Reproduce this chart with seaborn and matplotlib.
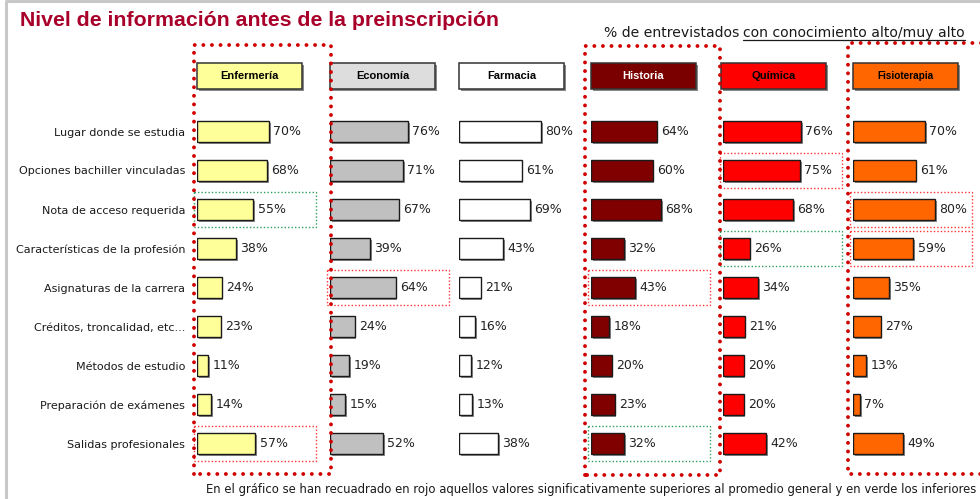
import pandas as pd
import matplotlib.pyplot as plt
import matplotlib.patheffects as pe
from matplotlib.patches import Rectangle
from matplotlib.lines import Line2D
import seaborn as sns

# datos (% con conocimiento alto/muy alto)
categorias = [
    "Lugar donde se estudia",
    "Opciones bachiller vinculadas",
    "Nota de acceso requerida",
    "Características de la profesión",
    "Asignaturas de la carrera",
    "Créditos, troncalidad, etc...",
    "Métodos de estudio",
    "Preparación de exámenes",
    "Salidas profesionales",
]
carreras = ["Enfermería", "Economía", "Farmacia", "Historia", "Química", "Fisioterapia"]
enfermeria = [70, 68, 55, 38, 24, 23, 11, 14, 57]
economia = [76, 71, 67, 39, 64, 24, 19, 15, 52]
farmacia = [80, 61, 69, 43, 21, 16, 12, 13, 38]
historia = [64, 60, 68, 32, 43, 18, 20, 23, 32]
quimica = [76, 75, 68, 26, 34, 21, 20, 20, 42]
fisioterapia = [70, 61, 80, 59, 35, 27, 13, 7, 49]
valores = [enfermeria, economia, farmacia, historia, quimica, fisioterapia]

# recuadros: superiores (rojo) e inferiores (verde) al promedio
resaltados_rojo = [
    ("Enfermería", "Salidas profesionales"),
    ("Economía", "Asignaturas de la carrera"),
    ("Historia", "Asignaturas de la carrera"),
    ("Química", "Opciones bachiller vinculadas"),
    ("Fisioterapia", "Nota de acceso requerida"),
    ("Fisioterapia", "Características de la profesión"),
]
resaltados_verde = [
    ("Enfermería", "Nota de acceso requerida"),
    ("Historia", "Salidas profesionales"),
    ("Química", "Características de la profesión"),
]

# estilo
colores = ["#FFFF99", "#C0C0C0", "#FFFFFF", "#800000", "#FF0000", "#FF6600"]
colores_cabecera = ["#FFFF99", "#DDDDDD", "#FFFFFF", "#7A0000", "#FF0000", "#FF6600"]
texto_cabecera = ["black", "black", "black", "white", "black", "black"]
x_barras = [197, 330, 459, 591, 723, 853]

sns.set_style("white")
plt.rcParams["font.family"] = ["DejaVu Sans"]

W, H = 980, 499
fig = plt.figure(figsize=(W / 100, H / 100), dpi=100)


def fx(x):
    return x / W


def fy(y):
    return 1 - y / H


PX_PCT = 1.025
AX_W = 130
ROW0, STEP = 131.5, 39.0
ax_top = ROW0 - STEP / 2
ax_bot = ROW0 + 8.5 * STEP
sombra = [pe.SimplePatchShadow(offset=(1.3, -1.3), shadow_rgbFace="0.55", alpha=1), pe.Normal()]

for i, (nombre, vals) in enumerate(zip(carreras, valores)):
    x0 = x_barras[i]
    ax = fig.add_axes([fx(x0), fy(ax_bot), fx(AX_W), (ax_bot - ax_top) / H])
    df = pd.DataFrame({"categoria": categorias, "valor": vals})
    sns.barplot(data=df, x="valor", y="categoria", orient="h", color=colores[i],
                saturation=1, edgecolor="#1a1a1a", linewidth=1, width=0.55, ax=ax)
    ax.set_xlim(0, AX_W / PX_PCT)
    ax.set_ylim(8.5, -0.5)
    ax.set_xlabel("")
    ax.set_ylabel("")
    ax.set_xticks([])
    ax.patch.set_alpha(0)
    sns.despine(ax=ax, left=True, bottom=True)
    if i == 0:
        ax.tick_params(axis="y", left=False, pad=5, labelsize=8.0, labelcolor="#1a1a1a")
    else:
        ax.set_yticks([])
    for p in ax.patches:
        p.set_path_effects(sombra)
    ax.bar_label(ax.containers[0], labels=[f"{v}%" for v in vals], padding=3,
                 fontsize=9, color="#222222")

    # recuadros finos
    for lista, col in ((resaltados_rojo, "#FF3333"), (resaltados_verde, "#2E9E5E")):
        for c, cat in lista:
            if c == nombre:
                r = categorias.index(cat)
                ax.add_patch(Rectangle((-2.5, r - 0.44), 119, 0.88, fill=False, ec=col,
                                       lw=1, ls=(0, (1, 1.5)), clip_on=False))

    # cabecera
    hx = x0 if i != 4 else x0 - 2
    fig.add_artist(Rectangle((fx(hx + 2), fy(91)), fx(105), 26 / H, transform=fig.transFigure,
                             fc="#888888", ec="none"))
    fig.add_artist(Rectangle((fx(hx), fy(89)), fx(105), 26 / H, transform=fig.transFigure,
                             fc=colores_cabecera[i], ec="#333333", lw=1.1))
    fig.text(fx(hx + 52.5), fy(76), nombre, ha="center", va="center",
             fontsize=7.2 if nombre == "Fisioterapia" else 8, fontweight="bold",
             color=texto_cabecera[i], family="Liberation Sans")


# marcos punteados gruesos
def marco(x1, y1, x2, y2, abierto=False):
    if abierto:
        xs, ys = [x2, x1, x1, x2], [y1, y1, y2, y2]
    else:
        xs, ys = [x1, x1, x2, x2, x1], [y2, y1, y1, y2, y2]
    fig.add_artist(Line2D([fx(v) for v in xs], [fy(v) for v in ys], transform=fig.transFigure,
                          color="#D00000", lw=2.8, ls=(0, (0.01, 2.2)),
                          dash_capstyle="round", clip_on=False))


marco(194, 45, 331, 474)
marco(585, 46, 720, 475)
marco(848, 43, 995, 474, abierto=True)

# borde gris de la diapositiva
fig.add_artist(Line2D([fx(6), fx(6), fx(990)], [fy(505), fy(1), fy(1)], transform=fig.transFigure,
                      color="#C8C8C8", lw=2.2))

# titulos
fig.text(fx(20), fy(20), "Nivel de información antes de la preinscripción", ha="left",
         va="center", fontsize=15.3, fontweight="bold", color="#A8002A", family="Liberation Sans")

t2 = fig.text(fx(965), fy(37), "con conocimiento alto/muy alto", ha="right", va="baseline",
              fontsize=10.1, color="#1a1a1a")
fig.canvas.draw()
bb = t2.get_window_extent()
fig.text(bb.x0 / W - fx(4), fy(37), "% de entrevistados", ha="right", va="baseline",
         fontsize=10.1, color="#1a1a1a")
fig.add_artist(Line2D([bb.x0 / W, bb.x1 / W], [fy(39.5), fy(39.5)], transform=fig.transFigure,
                      color="#1a1a1a", lw=0.9))

fig.text(fx(206), fy(489), "En el gráfico se han recuadrado en rojo aquellos valores significativamente "
         "superiores al promedio general y en verde los inferiores", ha="left", va="center",
         fontsize=8.35, color="#1a1a1a")

fig.savefig("out.png", dpi=100)
